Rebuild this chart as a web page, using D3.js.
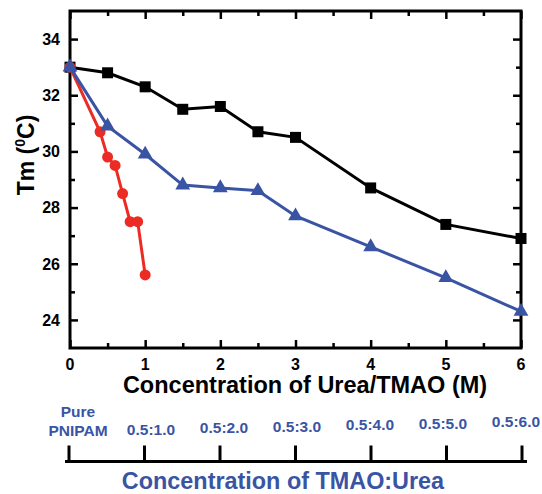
<!DOCTYPE html>
<html>
<head>
<meta charset="utf-8">
<script src="https://cdn.jsdelivr.net/npm/d3@7"></script>
<style>
  html, body { margin: 0; padding: 0; background: #fff; }
  svg { display: block; font-family: "Liberation Sans", Arial, sans-serif; font-weight: bold; }
</style>
</head>
<body>
<svg id="chart" width="542" height="494"></svg>
<script>
// Urea concentration (M) and Tm (°C) — black squares
const ureaX = [0, 0.5, 1, 1.5, 2, 2.5, 3, 4, 5, 6];
const ureaTm = [33.0, 32.8, 32.3, 31.5, 31.6, 30.7, 30.5, 28.7, 27.4, 26.9];

// TMAO concentration (M) and Tm (°C) — red circles
const tmaoX = [0, 0.4, 0.5, 0.6, 0.7, 0.8, 0.9, 1.0];
const tmaoTm = [33.0, 30.7, 29.8, 29.5, 28.5, 27.5, 27.5, 25.6];

// Mixed TMAO:Urea, plotted against urea concentration — blue triangles
const mixX = [0, 0.5, 1, 1.5, 2, 2.5, 3, 4, 5, 6];
const mixTm = [33.0, 30.9, 29.9, 28.8, 28.7, 28.6, 27.7, 26.6, 25.5, 24.3];

// Secondary axis categories
const ratioLabels = [["Pure", "PNIPAM"], ["0.5:1.0"], ["0.5:2.0"], ["0.5:3.0"], ["0.5:4.0"], ["0.5:5.0"], ["0.5:6.0"]];

const yTicks = [24, 26, 28, 30, 32, 34];
const xTicks = [0, 1, 2, 3, 4, 5, 6];

const BLACK = "#000000", RED = "#ec2b24", BLUE = "#3a54a4";

const svg = d3.select("#chart");
const mLeft = 70, mRight = 521, mTop = 11, mBottom = 348;

const x = d3.scaleLinear().domain([0, 6]).range([mLeft, mRight]);
const y = d3.scaleLinear().domain([23, 35]).range([mBottom, mTop]);

// Axis frame with inward ticks
function styleAxis(g) {
  g.select(".domain").remove();
  g.selectAll(".tick line").attr("stroke", "#000").attr("stroke-width", 2.5);
}
const yMinor = d3.range(24, 35, 1);
const xMinor = d3.range(0, 6.01, 0.5);

svg.append("g").attr("transform", `translate(${mLeft},0)`)
  .call(d3.axisRight(y).tickValues(yMinor).tickSize(5).tickFormat(""))
  .call(styleAxis)
  .call(g => g.selectAll(".tick line").filter(d => d % 2 === 0).attr("x2", 8));
svg.append("g").attr("transform", `translate(${mRight},0)`)
  .call(d3.axisLeft(y).tickValues(yMinor).tickSize(5).tickFormat(""))
  .call(styleAxis)
  .call(g => g.selectAll(".tick line").filter(d => d % 2 === 0).attr("x2", -8));
svg.append("g").attr("transform", `translate(0,${mBottom})`)
  .call(d3.axisTop(x).tickValues(xMinor).tickSize(5).tickFormat(""))
  .call(styleAxis)
  .call(g => g.selectAll(".tick line").filter(d => Number.isInteger(d)).attr("y2", -8));
svg.append("g").attr("transform", `translate(0,${mTop})`)
  .call(d3.axisBottom(x).tickValues(xMinor).tickSize(5).tickFormat(""))
  .call(styleAxis)
  .call(g => g.selectAll(".tick line").filter(d => Number.isInteger(d)).attr("y2", 8));

svg.append("rect")
  .attr("x", mLeft).attr("y", mTop)
  .attr("width", mRight - mLeft).attr("height", mBottom - mTop)
  .attr("fill", "none").attr("stroke", "#000").attr("stroke-width", 3);

// Tick labels
svg.append("g").selectAll("text").data(yTicks).join("text")
  .attr("x", mLeft - 10).attr("y", d => y(d)).attr("dy", "0.36em")
  .attr("text-anchor", "end").attr("font-size", 16).text(d => d);
svg.append("g").selectAll("text").data(xTicks).join("text")
  .attr("x", d => x(d)).attr("y", mBottom + 21.5)
  .attr("text-anchor", "middle").attr("font-size", 16).text(d => d);

// Axis titles
const yt = svg.append("text")
  .attr("transform", `translate(34,${155}) rotate(-90)`)
  .attr("text-anchor", "middle").attr("font-size", 23);
yt.append("tspan").text("Tm (");
yt.append("tspan").attr("font-size", 14).attr("dy", -9).text("0");
yt.append("tspan").attr("dy", 9).text("C)");

svg.append("text")
  .attr("x", 305).attr("y", 393)
  .attr("text-anchor", "middle").attr("font-size", 23.5)
  .text("Concentration of Urea/TMAO (M)");

// Series
const line = d3.line().x(d => x(d[0])).y(d => y(d[1]));
function series(xs, ys) { return xs.map((v, i) => [v, ys[i]]); }

const black = series(ureaX, ureaTm);
const red = series(tmaoX, tmaoTm);
const blue = series(mixX, mixTm);

svg.append("path").datum(black).attr("d", line)
  .attr("fill", "none").attr("stroke", BLACK).attr("stroke-width", 3);
svg.append("g").selectAll("rect").data(black).join("rect")
  .attr("x", d => x(d[0]) - 5.5).attr("y", d => y(d[1]) - 5.5)
  .attr("width", 11).attr("height", 11).attr("fill", BLACK);

svg.append("path").datum(red).attr("d", line)
  .attr("fill", "none").attr("stroke", RED).attr("stroke-width", 3);
svg.append("g").selectAll("circle").data(red).join("circle")
  .attr("cx", d => x(d[0])).attr("cy", d => y(d[1])).attr("r", 5.5)
  .attr("fill", RED);

svg.append("path").datum(blue).attr("d", line)
  .attr("fill", "none").attr("stroke", BLUE).attr("stroke-width", 3);
const tri = d3.symbol().type(d3.symbolTriangle).size(95);
svg.append("g").selectAll("path").data(blue).join("path")
  .attr("transform", d => `translate(${x(d[0])},${y(d[1])})`)
  .attr("d", tri).attr("fill", BLUE);

// Secondary category axis: TMAO:Urea ratio
const rTick = d3.scaleLinear().domain([0, ratioLabels.length - 1]).range([69, 522]);
const rLabel = d3.scaleLinear().domain([0, ratioLabels.length - 1]).range([78, 516]);
const axisY = 461.5;
svg.append("line")
  .attr("x1", 65).attr("x2", 527)
  .attr("y1", axisY).attr("y2", axisY)
  .attr("stroke", "#000").attr("stroke-width", 3);
svg.append("g").selectAll("line").data(ratioLabels).join("line")
  .attr("x1", (d, i) => rTick(i)).attr("x2", (d, i) => rTick(i))
  .attr("y1", axisY - 16).attr("y2", axisY)
  .attr("stroke", "#000").attr("stroke-width", 3);
const lab = svg.append("g").selectAll("text").data(ratioLabels).join("text")
  .attr("x", (d, i) => rLabel(i))
  .attr("y", (d, i) => 436 - 1.5 * i)
  .attr("text-anchor", "middle").attr("font-size", 15.5).attr("fill", BLUE);
lab.selectAll("tspan").data(d => d).join("tspan")
  .attr("x", function () { return d3.select(this.parentNode).attr("x"); })
  .attr("dy", (d, i, n) => i === 0 ? (n.length > 1 ? "-1.2em" : 0) : "1.2em")
  .text(d => d);

svg.append("text")
  .attr("x", 283).attr("y", 489)
  .attr("text-anchor", "middle").attr("font-size", 23.4).attr("fill", BLUE)
  .text("Concentration of TMAO:Urea");
</script>
</body>
</html>
